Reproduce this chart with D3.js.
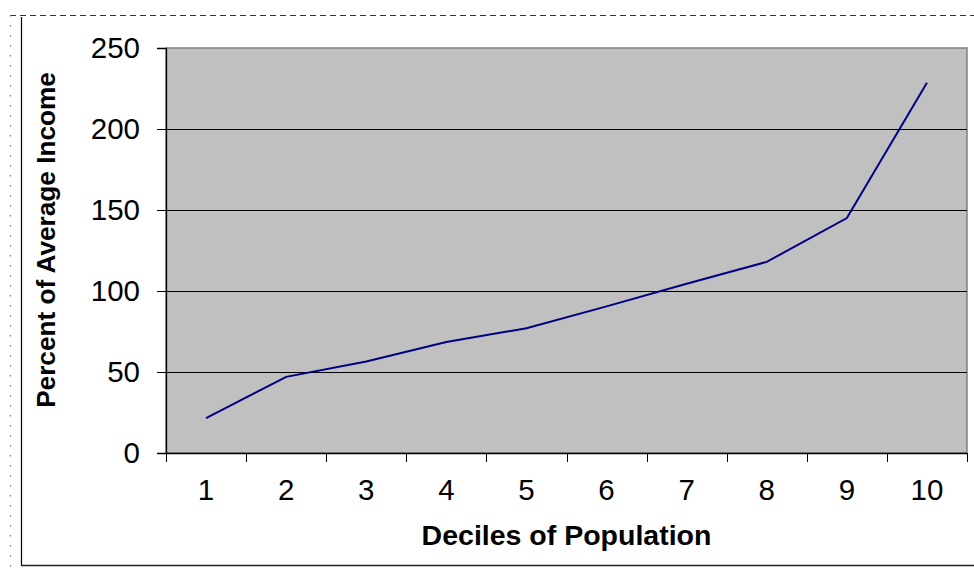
<!DOCTYPE html>
<html>
<head>
<meta charset="utf-8">
<script src="https://cdn.jsdelivr.net/npm/d3@7"></script>
<style>
  html, body { margin: 0; padding: 0; background: #fff; }
  svg { display: block; font-family: "Liberation Sans", Arial, sans-serif; }
</style>
</head>
<body>
<svg id="chart" width="974" height="570"></svg>
<script>
const deciles = ["1", "2", "3", "4", "5", "6", "7", "8", "9", "10"];
const percentOfAverage = [21.5, 47, 56.5, 68.5, 77, 90.5, 104.5, 118, 145, 228.5];
const yTicks = [0, 50, 100, 150, 200, 250];
const xTitle = "Deciles of Population";
const yTitle = "Percent of Average Income";

const svg = d3.select("#chart");
const plot = { left: 166, right: 967, top: 48, bottom: 453 };

// outer frames
svg.append("line").attr("x1", 10).attr("x2", 974).attr("y1", 15.5).attr("y2", 15.5)
  .attr("stroke", "#333").attr("stroke-width", 1).attr("stroke-dasharray", "6,4");
svg.append("line").attr("x1", 10.5).attr("x2", 10.5).attr("y1", 15).attr("y2", 570)
  .attr("stroke", "#777").attr("stroke-width", 1.2).attr("stroke-dasharray", "1.5,8.5");
svg.append("line").attr("x1", 21.5).attr("x2", 21.5).attr("y1", 17).attr("y2", 566)
  .attr("stroke", "#000").attr("stroke-width", 1.2);
svg.append("line").attr("x1", 21).attr("x2", 974).attr("y1", 565.5).attr("y2", 565.5)
  .attr("stroke", "#222").attr("stroke-width", 1.6);

const x = d3.scaleBand().domain(deciles).range([plot.left, plot.right]).paddingInner(0).paddingOuter(0);
const y = d3.scaleLinear().domain([0, 250]).range([plot.bottom, plot.top]);

// plot background
svg.append("rect").attr("x", plot.left).attr("y", plot.top)
  .attr("width", plot.right - plot.left).attr("height", plot.bottom - plot.top)
  .attr("fill", "#C0C0C0").attr("stroke", "#808080").attr("stroke-width", 1.5);

// gridlines
svg.append("g").selectAll("line").data(yTicks.filter(d => d > 0 && d < 250)).join("line")
  .attr("x1", plot.left).attr("x2", plot.right)
  .attr("y1", d => Math.round(y(d)) + 0.5).attr("y2", d => Math.round(y(d)) + 0.5)
  .attr("stroke", "#000").attr("stroke-width", 1);

// y axis
const yAxis = d3.axisLeft(y).tickValues(yTicks).tickSize(9).tickPadding(17).tickFormat(d3.format("d"));
const gy = svg.append("g").attr("transform", `translate(${plot.left},0)`).call(yAxis);
gy.select(".domain").attr("stroke", "#000").attr("stroke-width", 1.3);
gy.selectAll(".tick line").attr("stroke", "#000");
gy.selectAll(".tick text").attr("font-size", 29.5).attr("fill", "#000")
  .attr("font-family", "'Liberation Sans', Arial, sans-serif");

// x axis with boundary ticks
const gx = svg.append("g").attr("transform", `translate(0,${plot.bottom})`);
gx.append("line").attr("x1", plot.left).attr("x2", plot.right).attr("y1", 0.5).attr("y2", 0.5)
  .attr("stroke", "#000").attr("stroke-width", 1.5);
const boundaries = deciles.map(d => x(d)).concat([plot.right]);
gx.selectAll(".bt").data(boundaries).join("line")
  .attr("x1", d => Math.round(d) + 0.5).attr("x2", d => Math.round(d) + 0.5)
  .attr("y1", 0).attr("y2", 9).attr("stroke", "#000").attr("stroke-width", 1);
gx.selectAll(".xl").data(deciles).join("text")
  .attr("x", d => x(d) + x.bandwidth() / 2).attr("y", 47)
  .attr("text-anchor", "middle").attr("font-size", 29.5).attr("fill", "#000")
  .text(d => d);

// line
const line = d3.line()
  .x((d, i) => x(deciles[i]) + x.bandwidth() / 2)
  .y(d => y(d));
svg.append("path").datum(percentOfAverage).attr("d", line)
  .attr("fill", "none").attr("stroke", "#000080").attr("stroke-width", 2);

// titles
svg.append("text").attr("x", (plot.left + plot.right) / 2).attr("y", 545)
  .attr("text-anchor", "middle").attr("font-weight", "bold").attr("font-size", 28.5)
  .attr("fill", "#000").text(xTitle);
svg.append("text").attr("transform", "translate(55,240) rotate(-90)")
  .attr("text-anchor", "middle").attr("font-weight", "bold").attr("font-size", 26.2)
  .attr("fill", "#000").text(yTitle);
</script>
</body>
</html>
